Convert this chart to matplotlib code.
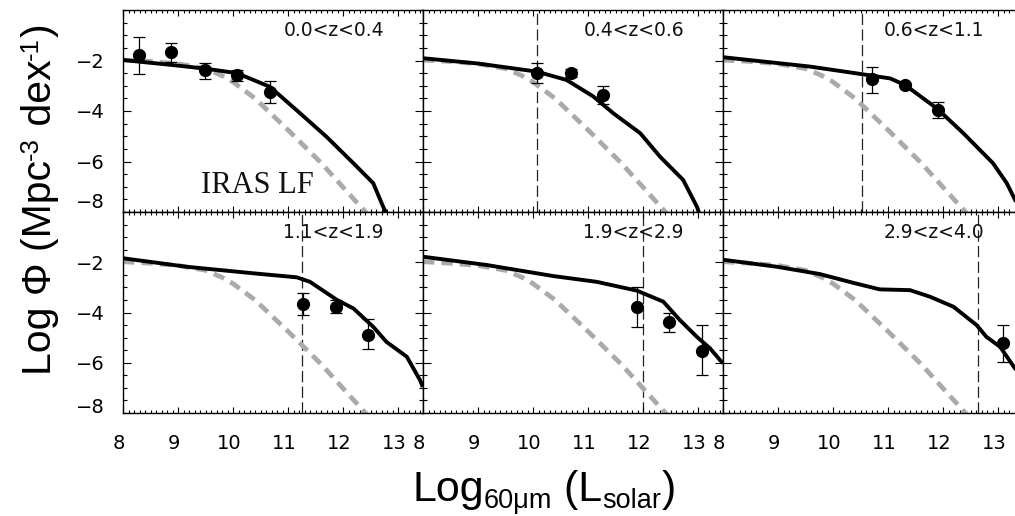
import matplotlib
matplotlib.use("Agg")
import matplotlib.pyplot as plt
from matplotlib.ticker import MultipleLocator, FixedLocator
from matplotlib.transforms import IdentityTransform, ScaledTranslation

# ---------------- data ----------------
panel_labels = ["0.0<z<0.4", "0.4<z<0.6", "0.6<z<1.1",
                "1.1<z<1.9", "1.9<z<2.9", "2.9<z<4.0"]

# local IRAS LF (grey dashed, same in each panel)
iras_logL = [8.0, 8.5, 9.0, 9.5, 9.8, 10.0, 10.4, 11.0, 11.6, 12.2, 12.45]
iras_phi = [-1.98, -2.04, -2.13, -2.32, -2.6, -2.85, -3.5, -4.75, -6.05, -7.5, -8.1]

# model LF per panel (solid black)
model_logL_1 = [8.0, 8.9, 9.49, 10.07, 10.67, 11.22, 11.7, 12.19, 12.55, 12.73, 12.8]
model_phi_1 = [-1.98, -2.18, -2.32, -2.5, -3.04, -4.09, -5.02, -6.07, -6.86, -7.79, -8.1]
model_logL_2 = [8.0, 9.0, 10.07, 10.61, 11.1, 11.46, 11.95, 12.31, 12.73, 12.98, 13.03]
model_phi_2 = [-1.91, -2.12, -2.44, -2.77, -3.43, -4.09, -4.88, -5.81, -6.73, -7.79, -8.1]
model_logL_3 = [8.0, 9.58, 10.49, 11.04, 11.31, 11.89, 12.37, 12.61, 12.91, 13.16, 13.31, 13.45]
model_phi_3 = [-1.87, -2.24, -2.53, -2.71, -2.97, -3.9, -4.88, -5.41, -6.07, -6.86, -7.52, -8.1]
model_logL_4 = [8.0, 9.16, 10.37, 11.16, 11.4, 11.89, 12.19, 12.55, 12.79, 13.16, 13.4, 13.45]
model_phi_4 = [-1.84, -2.18, -2.44, -2.6, -2.78, -3.5, -3.84, -4.57, -5.17, -5.76, -6.69, -6.96]
model_logL_5 = [8.0, 9.16, 10.37, 11.16, 11.89, 12.37, 12.67, 12.98, 13.22, 13.45]
model_phi_5 = [-1.78, -2.11, -2.55, -2.78, -3.13, -3.57, -4.3, -4.97, -5.43, -6.02]
model_logL_6 = [8.0, 8.98, 9.76, 10.37, 10.85, 11.4, 11.76, 12.19, 12.61, 12.79, 13.04, 13.31, 13.45]
model_phi_6 = [-1.9, -2.18, -2.47, -2.82, -3.08, -3.11, -3.37, -3.77, -4.5, -4.97, -5.37, -6.23, -6.6]

# observed points: logL, logPhi, upper and lower error-bar ends
obs_logL_1 = [8.29, 8.87, 9.49, 10.07, 10.68]
obs_phi_1 = [-1.78, -1.65, -2.38, -2.57, -3.23]
obs_hi_1 = [-1.08, -1.29, -2.09, -2.38, -2.81]
obs_lo_1 = [-2.53, -2.05, -2.75, -2.80, -3.67]
obs_logL_2 = [10.07, 10.69, 11.27]
obs_phi_2 = [-2.48, -2.51, -3.37]
obs_hi_2 = [-2.11, -2.34, -3.01]
obs_lo_2 = [-2.90, -2.67, -3.72]
obs_logL_3 = [10.70, 11.31, 11.90]
obs_phi_3 = [-2.75, -2.97, -3.96]
obs_hi_3 = [-2.24, -2.88, -3.63]
obs_lo_3 = [-3.27, -3.06, -4.29]
obs_logL_4 = [11.27, 11.87, 12.46]
obs_phi_4 = [-3.67, -3.77, -4.90]
obs_hi_4 = [-3.24, -3.50, -4.27]
obs_lo_4 = [-4.08, -4.01, -5.46]
obs_logL_5 = [11.89, 12.48, 13.07]
obs_phi_5 = [-3.80, -4.37, -5.52]
obs_hi_5 = [-3.00, -4.00, -4.50]
obs_lo_5 = [-4.59, -4.77, -6.49]
obs_logL_6 = [13.09]
obs_phi_6 = [-5.21]
obs_hi_6 = [-4.50]
obs_lo_6 = [-5.96]

# completeness limits (vertical dashed lines)
limits = [None, 10.07, 10.52, 11.25, 12.0, 12.63]

xticks = [8, 9, 10, 11, 12, 13]
yticks = [-2, -4, -6, -8]
ytick_labels = ["\u22122", "\u22124", "\u22126", "\u22128"]

models = [(model_logL_1, model_phi_1), (model_logL_2, model_phi_2), (model_logL_3, model_phi_3),
          (model_logL_4, model_phi_4), (model_logL_5, model_phi_5), (model_logL_6, model_phi_6)]
obs = [(obs_logL_1, obs_phi_1, obs_hi_1, obs_lo_1), (obs_logL_2, obs_phi_2, obs_hi_2, obs_lo_2),
       (obs_logL_3, obs_phi_3, obs_hi_3, obs_lo_3), (obs_logL_4, obs_phi_4, obs_hi_4, obs_lo_4),
       (obs_logL_5, obs_phi_5, obs_hi_5, obs_lo_5), (obs_logL_6, obs_phi_6, obs_hi_6, obs_lo_6)]

# ---------------- figure ----------------
W, H = 1015, 516
fig = plt.figure(figsize=(W / 100, H / 100), dpi=100)

col_x = [123, 423, 723]
row_top = [10, 212]
row_h = [202, 201]
panel_w = 300
px_per_dex = 55.0
shift_left = ScaledTranslation(-0.04, 0, fig.dpi_scale_trans)

for i in range(6):
    row, col = divmod(i, 3)
    ax = fig.add_axes([col_x[col] / W, 1 - (row_top[row] + row_h[row]) / H,
                       panel_w / W, row_h[row] / H])
    ax.set_xlim(8, 8 + panel_w / px_per_dex)
    ax.set_ylim(-8, 0)

    ax.plot(iras_logL, iras_phi, color="#aaaaaa", lw=3.4, dashes=(2.4, 1.5),
            dash_capstyle="butt", zorder=2)
    mx, my = models[i]
    ax.plot(mx, my, color="black", lw=2.8, solid_capstyle="butt",
            solid_joinstyle="round", zorder=3)
    ox, oy, ohi, olo = obs[i]
    yerr = [[y - lo for y, lo in zip(oy, olo)], [hi - y for y, hi in zip(oy, ohi)]]
    ax.errorbar(ox, oy, yerr=yerr, fmt="o", color="black", ms=8.5, elinewidth=0.9,
                capsize=4.5, capthick=0.9, zorder=4)
    if limits[i] is not None:
        ax.axvline(limits[i], color="#222222", lw=0.9, dashes=(9, 3.5), zorder=1)

    ax.text(11.83, -0.8, panel_labels[i], ha="center", va="center",
            fontsize=13.5, family="DejaVu Sans", color="#111111")
    if i == 0:
        ax.text(10.44, -7.25, "IRAS LF", ha="center", va="baseline",
                fontsize=22, family="Liberation Serif", color="#111111")

    ax.xaxis.set_major_locator(FixedLocator(xticks))
    ax.xaxis.set_minor_locator(MultipleLocator(0.1))
    ax.yaxis.set_minor_locator(MultipleLocator(0.5))
    ax.set_yticks(yticks, labels=ytick_labels)
    ax.set_xticks(xticks, labels=[str(v) for v in xticks])
    ax.tick_params(which="both", direction="in", top=True, right=True,
                   width=0.8, color="black")
    ax.tick_params(axis="x", which="major", length=4.5, pad=15, labelsize=14)
    ax.tick_params(axis="x", which="minor", length=2)
    ax.tick_params(axis="y", which="major", length=5.5, pad=13, labelsize=14)
    ax.tick_params(axis="y", which="minor", length=3)
    ax.tick_params(labelbottom=(row == 1), labelleft=(col == 0))
    for sp in ax.spines.values():
        sp.set_linewidth(1.0)
    if col == 0:
        for t in ax.get_yticklabels():
            if t.get_text() == "\u22128":
                t.set_va("bottom" if row == 0 else "baseline")
    if row == 1:
        for t in ax.get_xticklabels():
            t.set_transform(t.get_transform() + shift_left)

# ---------------- axis titles (pieces for sub/superscripts) ----------------
renderer = fig.canvas.get_renderer()


def place_pieces(pieces, center, base, rotate=False):
    texts, adv = [], []
    for s, size, off in pieces:
        t = fig.text(0, 0, s, fontsize=size, family="Liberation Sans", ha="left",
                     va="baseline", rotation=90 if rotate else 0,
                     rotation_mode="anchor", transform=IdentityTransform())
        bb = t.get_window_extent(renderer)
        adv.append(bb.height if rotate else bb.width)
        texts.append(t)
    cur = center - sum(adv) / 2
    for t, a, (s, size, off) in zip(texts, adv, pieces):
        if rotate:
            t.set_position((base - off, cur))
        else:
            t.set_position((cur, base + off))
        cur += a


place_pieces([("Log", 31, 0), ("60\u03bcm", 19.5, -7), (" (L", 31, 0),
              ("solar", 19.5, -7), (")", 31, 0)], center=544, base=H - 501)
place_pieces([("Log \u03a6 (Mpc", 29.5, 0), ("-3", 18.5, 13), (" dex", 29.5, 0),
              ("-1", 18.5, 13), (")", 29.5, 0)], center=H - 199, base=51, rotate=True)

fig.savefig("out.png", dpi=100)
